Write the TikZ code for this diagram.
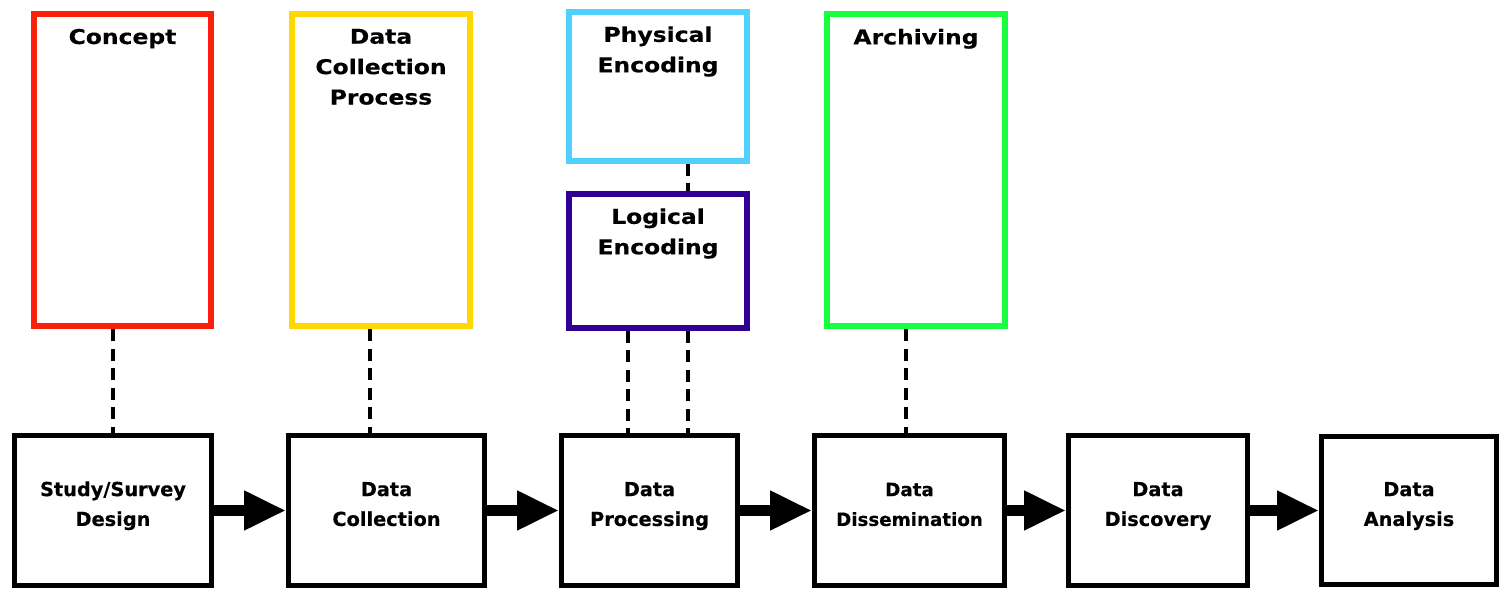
\documentclass[tikz,border=0pt]{standalone}
\usepackage{fontspec}
\setmainfont{DejaVu Sans}[BoldFeatures={FakeBold=0.3}]
\newfontfamily\widefont{DejaVu Sans}[FakeStretch=1.15, BoldFeatures={FakeBold=0.3}]
\usetikzlibrary{arrows.meta,positioning}
\definecolor{conceptred}{RGB}{250,32,12}
\definecolor{processyellow}{RGB}{255,216,0}
\definecolor{physcyan}{RGB}{80,208,255}
\definecolor{logindigo}{RGB}{48,0,150}
\definecolor{archgreen}{RGB}{24,255,64}
\tikzset{
	topbox/.style={draw, line width=0.12cm, minimum width=3.56cm, minimum height=6.26cm, inner sep=0pt},
	lowbox/.style={draw=black, line width=0.1cm, minimum width=3.9cm, minimum height=3.02cm, inner sep=0pt, align=center, text height=25pt, text depth=7.4pt, font=\bfseries\fontsize{11}{17}\selectfont},
	toptitle/.style={align=center, inner sep=0pt, font=\widefont\bfseries\fontsize{11.6}{17.3}\selectfont},
	flow/.style={line width=0.22cm, -{Triangle[length=0.84cm, width=0.74cm]}},
	link/.style={line width=0.08cm, dash pattern=on 0.24cm off 0.15cm}
}
\begin{document}
\begin{tikzpicture}[x=0.02cm, y=-0.02cm]
			%%%%% START %%%%%
			\useasboundingbox (0, 0) rectangle (1499, 590);
			
			\node[topbox, draw=conceptred] (concept) at (122.5, 170) {};
			\node[topbox, draw=processyellow] (dcprocess) at (381, 170) {};
			\node[topbox, draw=physcyan, minimum height=2.98cm] (physenc) at (658, 86.5) {};
			\node[topbox, draw=logindigo, minimum height=2.68cm] (logenc) at (658, 261) {};
			\node[topbox, draw=archgreen] (archiving) at (916, 170) {};
			
			\node[toptitle, below=0.36cm of concept.north] (concepttitle) {Concept};
			\node[toptitle, below=0.36cm of dcprocess.north] (dcprocesstitle) {Data\\Collection\\Process};
			\node[toptitle, below=0.34cm of physenc.north] (physenctitle) {Physical\\Encoding};
			\node[toptitle, below=0.34cm of logenc.north] (logenctitle) {Logical\\Encoding};
			\node[toptitle, below=0.36cm of archiving.north] (archivingtitle) {Archiving};
			
			\node[lowbox, minimum width=3.94cm] (design) at (113, 510.5) {Study/Survey\\Design};
			\node[lowbox, minimum width=3.92cm] (collection) at (386.5, 510.5) {Data\\Collection};
			\node[lowbox, minimum width=3.52cm] (processing) at (649.5, 510.5) {Data\\Processing};
			\node[lowbox, minimum width=3.8cm, font=\bfseries\fontsize{10.4}{17}\selectfont] (dissemination) at (909.5, 510.5) {Data\\Dissemination};
			\node[lowbox, minimum width=3.58cm] (discovery) at (1158, 510.5) {Data\\Discovery};
			\node[lowbox, minimum width=3.5cm, minimum height=2.98cm] (analysis) at (1409, 510.5) {Data\\Analysis};
			
			\draw[flow] (design) -- (collection);
			\draw[flow] (collection) -- (processing);
			\draw[flow] (processing) -- (dissemination);
			\draw[flow] (dissemination) -- (discovery);
			\draw[flow] (discovery) -- (analysis);
			
			\draw[link] (concept.south -| design.north) -- (design.north);
			\draw[link] (dcprocess.south -| 370, 0) -- (collection.north -| 370, 0);
			\draw[link] (logenc.south -| 628, 0) -- (processing.north -| 628, 0);
			\draw[link] (logenc.south -| 688, 0) -- (processing.north -| 688, 0);
			\draw[link] (physenc.south -| 688, 0) -- (logenc.north -| 688, 0);
			\draw[link] (archiving.south -| 906, 0) -- (dissemination.north -| 906, 0);
			%%%%% END %%%%%
\end{tikzpicture}
\end{document}
